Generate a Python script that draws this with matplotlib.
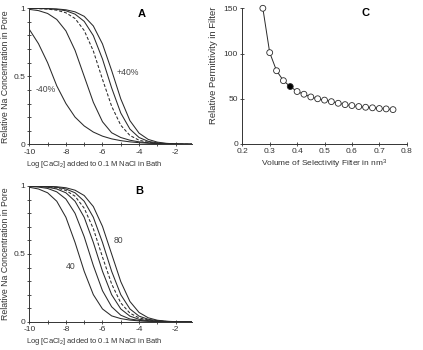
import matplotlib
matplotlib.use("Agg")
import matplotlib.pyplot as plt
from matplotlib.ticker import MultipleLocator, FixedLocator

plt.rcParams['font.family'] = ['Liberation Sans', 'DejaVu Sans']
plt.rcParams['axes.unicode_minus'] = False
plt.rcParams['mathtext.fontset'] = 'custom'
plt.rcParams['mathtext.rm'] = 'Liberation Sans'
plt.rcParams['mathtext.it'] = 'Liberation Sans:italic'

# ---- data ----
log_ca = [-10, -9.5, -9, -8.5, -8, -7.5, -7, -6.5, -6, -5.5, -5, -4.5, -4, -3.5, -3, -2.5, -2, -1.5, -1]

# Panel A: volume changed
a_minus40 = [0.845, 0.74, 0.60, 0.43, 0.30, 0.20, 0.135, 0.09, 0.06, 0.04, 0.027, 0.018, 0.012, 0.008, 0.005, 0.003, 0.002, 0.001, 0.0005]
a_minus20 = [0.992, 0.983, 0.962, 0.918, 0.834, 0.691, 0.50, 0.309, 0.166, 0.085, 0.05, 0.03, 0.018, 0.011, 0.007, 0.004, 0.002, 0.001, 0.0005]
a_zero    = [0.999, 0.997, 0.994, 0.986, 0.967, 0.925, 0.837, 0.686, 0.478, 0.280, 0.140, 0.065, 0.03, 0.015, 0.008, 0.004, 0.002, 0.001, 0.0005]
a_plus20  = [0.999, 0.9986, 0.9967, 0.992, 0.982, 0.957, 0.904, 0.799, 0.627, 0.415, 0.230, 0.112, 0.050, 0.022, 0.01, 0.005, 0.002, 0.001, 0.0005]
a_plus40  = [1.0, 0.9992, 0.998, 0.9953, 0.989, 0.974, 0.941, 0.870, 0.738, 0.543, 0.334, 0.174, 0.082, 0.036, 0.016, 0.007, 0.003, 0.0012, 0.0005]

# Panel B: permittivity changed
b_40   = [0.9906, 0.978, 0.950, 0.888, 0.770, 0.585, 0.373, 0.201, 0.096, 0.045, 0.025, 0.014, 0.008, 0.005, 0.003, 0.002, 0.001, 0.0005, 0.0003]
b_50   = [0.9967, 0.992, 0.982, 0.957, 0.904, 0.799, 0.627, 0.415, 0.230, 0.112, 0.050, 0.022, 0.012, 0.007, 0.004, 0.002, 0.001, 0.0006, 0.0003]
b_60   = [0.9983, 0.996, 0.9906, 0.978, 0.950, 0.888, 0.770, 0.585, 0.373, 0.201, 0.096, 0.043, 0.02, 0.01, 0.005, 0.003, 0.0015, 0.0008, 0.0004]
b_dash = [0.999, 0.997, 0.994, 0.986, 0.967, 0.925, 0.837, 0.686, 0.478, 0.280, 0.140, 0.065, 0.03, 0.015, 0.008, 0.004, 0.002, 0.001, 0.0005]
b_70   = [0.9993, 0.9983, 0.996, 0.9906, 0.978, 0.950, 0.888, 0.770, 0.585, 0.373, 0.201, 0.096, 0.043, 0.02, 0.009, 0.004, 0.002, 0.001, 0.0005]
b_80   = [0.9996, 0.999, 0.9976, 0.9944, 0.987, 0.969, 0.930, 0.849, 0.703, 0.50, 0.297, 0.151, 0.070, 0.031, 0.013, 0.0056, 0.0024, 0.001, 0.0004]

# Panel C
volume = [0.275, 0.30, 0.325, 0.35, 0.375, 0.40, 0.425, 0.45, 0.475, 0.50, 0.525, 0.55, 0.575, 0.60, 0.625, 0.65, 0.675, 0.70, 0.725, 0.75]
permittivity = [150, 101, 81, 70, 63.5, 58, 55, 52, 50, 48.5, 46.8, 45, 43.5, 42.5, 41.4, 40.6, 40, 39.2, 38.8, 38]
filled_index = 4

a_labels = {'-40%': (-9.1, 0.40), '+40%': (-4.6, 0.53)}
b_labels = {'40': (-7.75, 0.41), '80': (-5.15, 0.60)}

LC = '#2a2a2a'
TXT = '#333333'
TICK_FS = 6.0
fig = plt.figure(figsize=(4.23, 3.5), dpi=100)

def style(ax):
    for s in ['top', 'right']:
        ax.spines[s].set_visible(False)
    for s in ['left', 'bottom']:
        ax.spines[s].set_linewidth(0.7)
        ax.spines[s].set_color(TXT)
    ax.tick_params(which='both', direction='inout', length=3.2, width=0.6,
                   labelsize=TICK_FS, pad=1.5, colors=TXT, labelcolor=TXT)

def curve_panel(ax, curves, dashed_idx, labels, letter, lpos):
    for i, c in enumerate(curves):
        ax.plot(log_ca, c, color=LC, lw=0.75,
                ls=(0, (3, 1.8)) if i == dashed_idx else '-')
    ax.set_xlim(-10, -1.12)
    ax.set_ylim(0, 1)
    ax.xaxis.set_major_locator(FixedLocator([-10, -8, -6, -4, -2]))
    ax.xaxis.set_minor_locator(MultipleLocator(1))
    ax.yaxis.set_major_locator(FixedLocator([0, 0.5, 1]))
    ax.yaxis.set_minor_locator(MultipleLocator(0.1))
    ax.set_yticklabels(['0', '0.5', '1'])
    ax.set_xlabel(r'Log [CaCl$_2$] added to 0.1 M NaCl in Bath', fontsize=5.4, labelpad=2, color=TXT)
    ax.xaxis.set_label_coords(0.40, -0.105)
    ax.set_ylabel('Relative Na Concentration in Pore', fontsize=6.3, labelpad=2, color=TXT)
    for t, (x, y) in labels.items():
        ax.text(x, y, t, fontsize=6.2, ha='center', va='center', color='#444444')
    ax.text(lpos[0], lpos[1], letter, fontsize=8, fontweight='bold', ha='center', va='center')
    style(ax)

axA = fig.add_axes([0.0693, 0.5877, 0.384, 0.3886])
curve_panel(axA, [a_minus40, a_minus20, a_zero, a_plus20, a_plus40], 2, a_labels, 'A', (-3.85, 0.958))

axB = fig.add_axes([0.0693, 0.08, 0.384, 0.3886])
curve_panel(axB, [b_40, b_50, b_60, b_dash, b_70, b_80], 3, b_labels, 'B', (-4.0, 0.96))

axC = fig.add_axes([0.5728, 0.5886, 0.3887, 0.3877])
axC.plot(volume, permittivity, color=LC, lw=0.7, zorder=1)
fc = ['black' if i == filled_index else 'white' for i in range(len(volume))]
axC.scatter(volume, permittivity, s=18, facecolors=fc, edgecolors=LC, linewidths=0.6, zorder=2, clip_on=False)
axC.set_xlim(0.2, 0.8)
axC.set_ylim(0, 150)
axC.set_xticks([0.2, 0.3, 0.4, 0.5, 0.6, 0.7, 0.8])
axC.set_xticklabels(['0.2', '0.3', '0.4', '0.5', '0.6', '0.7', '0.8'])
axC.yaxis.set_major_locator(MultipleLocator(50))
axC.set_xlabel(r'Volume of Selectivity Filter in nm$^3$', fontsize=6.0, labelpad=2, color=TXT)
axC.set_ylabel('Relative Permittivity in Filter', fontsize=6.8, labelpad=3, color=TXT)
axC.yaxis.set_label_coords(-0.15, 0.58)
axC.text(0.651, 144.8, 'C', fontsize=8, fontweight='bold', ha='center', va='center')
style(axC)

fig.savefig('out.png', dpi=100)
